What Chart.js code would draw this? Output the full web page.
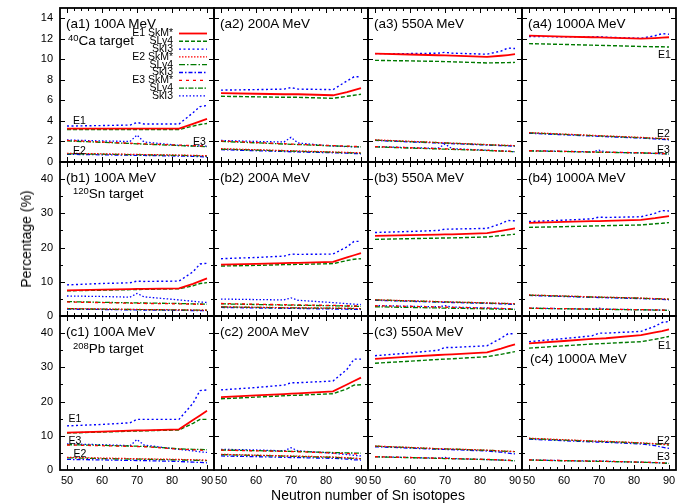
<!DOCTYPE html>
<html><head><meta charset="utf-8">
<script src="https://cdn.jsdelivr.net/npm/chart.js@4.4.0/dist/chart.umd.min.js"></script>
<style>
html,body{margin:0;padding:0;background:#fff;}
#wrap{position:relative;width:685px;height:503px;overflow:hidden;font-family:'Liberation Sans',Arial,sans-serif;color:#000;background:#fff;}
#wrap canvas{position:absolute;left:0;top:0;}
.t{position:absolute;white-space:nowrap;line-height:1;}
sup{font-size:0.7em;vertical-align:0;position:relative;top:-0.45em;}
</style></head><body><div id="wrap"></div>
<script>
// ---------- data ----------
const neutronNumbers = [50, 60, 68, 70, 72, 82, 86, 88, 90];
const xTickLabels = [50, 60, 70, 80, 90];
const yTicksRowA = [0, 2, 4, 6, 8, 10, 12, 14];
const yTicksRowBC = [0, 10, 20, 30, 40];
const seriesNames = ['E1 SkM*', 'SLy4', 'SkI3', 'E2 SkM*', 'SLy4', 'SkI3', 'E3 SkM*', 'SLy4', 'SkI3'];

// (a1) 40Ca target, 100A MeV
const a1_E1_SkM  = [3.25, 3.25, 3.25, 3.25, 3.25, 3.25, 3.72, 3.96, 4.2];
const a1_E1_SLy4 = [3.15, 3.15, 3.15, 3.15, 3.15, 3.15, 3.5, 3.65, 3.75];
const a1_E1_SkI3 = [3.5, 3.55, 3.6, 3.85, 3.7, 3.7, 4.8, 5.4, 5.5];
const a1_E2_SkM  = [0.85, 0.8, 0.75, 0.74, 0.73, 0.68, 0.65, 0.63, 0.62];
const a1_E2_SLy4 = [0.8, 0.76, 0.72, 0.71, 0.7, 0.64, 0.62, 0.6, 0.58];
const a1_E2_SkI3 = [0.75, 0.7, 0.66, 0.65, 0.64, 0.58, 0.55, 0.52, 0.48];
const a1_E3_SkM  = [2.1, 1.95, 1.83, 1.8, 1.77, 1.65, 1.6, 1.57, 1.55];
const a1_E3_SLy4 = [2.05, 1.92, 1.8, 1.77, 1.74, 1.6, 1.55, 1.52, 1.5];
const a1_E3_SkI3 = [2.15, 2.05, 2.0, 2.62, 1.95, 1.62, 1.58, 1.57, 1.55];
// (a2)
const a2_E1_SkM  = [6.7, 6.65, 6.6, 6.6, 6.6, 6.5, 6.8, 7.0, 7.2];
const a2_E1_SLy4 = [6.4, 6.35, 6.3, 6.3, 6.3, 6.2, 6.4, 6.5, 6.6];
const a2_E1_SkI3 = [7.0, 7.05, 7.1, 7.25, 7.1, 7.05, 7.9, 8.3, 8.3];
const a2_E2_SkM  = [1.3, 1.2, 1.12, 1.1, 1.08, 0.98, 0.94, 0.92, 0.9];
const a2_E2_SLy4 = [1.25, 1.16, 1.08, 1.06, 1.04, 0.95, 0.9, 0.88, 0.86];
const a2_E2_SkI3 = [1.2, 1.1, 1.02, 1.0, 0.98, 0.9, 0.86, 0.83, 0.8];
const a2_E3_SkM  = [2.05, 1.9, 1.78, 1.75, 1.72, 1.6, 1.55, 1.52, 1.5];
const a2_E3_SLy4 = [2.0, 1.87, 1.75, 1.72, 1.7, 1.57, 1.52, 1.5, 1.47];
const a2_E3_SkI3 = [2.1, 2.0, 1.95, 2.4, 1.85, 1.55, 1.5, 1.48, 1.46];
// (a3)
const a3_E1_SkM  = [10.56, 10.47, 10.4, 10.38, 10.36, 10.24, 10.35, 10.42, 10.5];
const a3_E1_SLy4 = [9.9, 9.85, 9.8, 9.78, 9.76, 9.65, 9.67, 9.68, 9.7];
const a3_E1_SkI3 = [10.56, 10.56, 10.6, 10.68, 10.6, 10.5, 10.8, 11.1, 11.05];
const a3_E2_SkM  = [2.16, 2.02, 1.9, 1.87, 1.84, 1.7, 1.65, 1.62, 1.6];
const a3_E2_SLy4 = [2.12, 1.99, 1.88, 1.85, 1.82, 1.68, 1.63, 1.6, 1.58];
const a3_E2_SkI3 = [2.1, 1.96, 1.85, 1.82, 1.79, 1.65, 1.6, 1.57, 1.55];
const a3_E3_SkM  = [1.5, 1.39, 1.3, 1.28, 1.26, 1.14, 1.08, 1.05, 1.02];
const a3_E3_SLy4 = [1.47, 1.36, 1.27, 1.25, 1.23, 1.12, 1.06, 1.03, 1.0];
const a3_E3_SkI3 = [1.5, 1.4, 1.33, 1.75, 1.3, 1.15, 1.08, 1.05, 1.0];
// (a4)
const a4_E1_SkM  = [12.31, 12.22, 12.15, 12.13, 12.11, 12.02, 12.07, 12.11, 12.15];
const a4_E1_SLy4 = [11.53, 11.45, 11.38, 11.36, 11.35, 11.25, 11.23, 11.22, 11.2];
const a4_E1_SkI3 = [12.22, 12.2, 12.18, 12.2, 12.15, 12.05, 12.3, 12.5, 12.45];
const a4_E2_SkM  = [2.87, 2.72, 2.6, 2.57, 2.54, 2.4, 2.33, 2.3, 2.25];
const a4_E2_SLy4 = [2.84, 2.69, 2.57, 2.54, 2.51, 2.37, 2.3, 2.27, 2.22];
const a4_E2_SkI3 = [2.8, 2.65, 2.53, 2.5, 2.47, 2.33, 2.25, 2.2, 2.15];
const a4_E3_SkM  = [1.1, 1.04, 0.98, 0.97, 0.96, 0.9, 0.85, 0.82, 0.8];
const a4_E3_SLy4 = [1.08, 1.02, 0.96, 0.95, 0.94, 0.88, 0.84, 0.81, 0.78];
const a4_E3_SkI3 = [1.1, 1.04, 0.99, 1.15, 0.96, 0.88, 0.83, 0.8, 0.77];
// (b1) 120Sn target
const b1_E1_SkM  = [7.5, 7.7, 7.85, 7.9, 7.92, 8.05, 9.4, 10.2, 11.0];
const b1_E1_SLy4 = [7.35, 7.55, 7.7, 7.75, 7.78, 7.95, 8.8, 9.5, 9.75];
const b1_E1_SkI3 = [9.1, 9.5, 9.7, 10.2, 10.1, 10.2, 12.9, 15.2, 15.4];
const b1_E2_SkM  = [2.2, 2.05, 1.95, 1.92, 1.9, 1.8, 1.75, 1.72, 1.7];
const b1_E2_SLy4 = [2.15, 2.0, 1.9, 1.88, 1.86, 1.77, 1.72, 1.7, 1.68];
const b1_E2_SkI3 = [2.0, 1.9, 1.8, 1.78, 1.76, 1.65, 1.6, 1.57, 1.55];
const b1_E3_SkM  = [4.1, 3.9, 3.75, 3.7, 3.67, 3.55, 3.45, 3.4, 3.35];
const b1_E3_SLy4 = [4.2, 4.0, 3.85, 3.82, 3.8, 3.65, 3.55, 3.5, 3.45];
const b1_E3_SkI3 = [5.85, 5.7, 5.5, 6.6, 5.6, 4.7, 4.3, 4.1, 3.95];
// (b2)
const b2_E1_SkM  = [15.0, 15.25, 15.45, 15.5, 15.52, 15.8, 17.1, 17.75, 18.4];
const b2_E1_SLy4 = [14.6, 14.8, 15.0, 15.05, 15.08, 15.3, 16.2, 16.6, 16.75];
const b2_E1_SkI3 = [16.75, 17.1, 17.5, 18.1, 18.0, 18.1, 20.2, 21.8, 21.8];
const b2_E2_SkM  = [2.7, 2.55, 2.45, 2.42, 2.4, 2.3, 2.25, 2.2, 2.15];
const b2_E2_SLy4 = [2.65, 2.5, 2.4, 2.38, 2.36, 2.25, 2.2, 2.16, 2.12];
const b2_E2_SkI3 = [2.5, 2.35, 2.25, 2.22, 2.2, 2.05, 1.98, 1.95, 1.9];
const b2_E3_SkM  = [3.65, 3.45, 3.3, 3.27, 3.24, 3.1, 3.0, 2.95, 2.9];
const b2_E3_SLy4 = [3.55, 3.35, 3.2, 3.17, 3.14, 3.0, 2.9, 2.85, 2.8];
const b2_E3_SkI3 = [4.95, 4.8, 4.7, 5.3, 4.6, 3.9, 3.6, 3.45, 3.35];
// (b3)
const b3_E1_SkM  = [23.4, 23.65, 23.8, 23.85, 23.88, 24.2, 24.9, 25.25, 25.6];
const b3_E1_SLy4 = [22.4, 22.6, 22.75, 22.8, 22.82, 23.1, 23.5, 23.7, 23.9];
const b3_E1_SkI3 = [24.4, 24.7, 25.0, 25.4, 25.4, 25.6, 27.0, 27.9, 27.8];
const b3_E2_SkM  = [4.75, 4.45, 4.22, 4.16, 4.1, 3.85, 3.72, 3.66, 3.6];
const b3_E2_SLy4 = [4.7, 4.4, 4.17, 4.11, 4.05, 3.8, 3.67, 3.6, 3.55];
const b3_E2_SkI3 = [4.6, 4.3, 4.07, 4.01, 3.95, 3.68, 3.55, 3.48, 3.4];
const b3_E3_SkM  = [3.0, 2.8, 2.62, 2.58, 2.54, 2.3, 2.2, 2.14, 2.08];
const b3_E3_SLy4 = [2.7, 2.5, 2.35, 2.3, 2.27, 2.1, 2.0, 1.95, 1.9];
const b3_E3_SkI3 = [3.05, 2.85, 2.7, 3.0, 2.6, 2.35, 2.2, 2.1, 2.0];
// (b4)
const b4_E1_SkM  = [27.2, 27.5, 27.7, 27.75, 27.8, 28.1, 28.6, 28.9, 29.2];
const b4_E1_SLy4 = [25.9, 26.1, 26.3, 26.35, 26.4, 26.6, 26.95, 27.1, 27.3];
const b4_E1_SkI3 = [27.6, 28.0, 28.4, 28.9, 28.8, 29.0, 30.0, 30.8, 30.7];
const b4_E2_SkM  = [6.15, 5.85, 5.6, 5.55, 5.5, 5.25, 5.1, 5.02, 4.95];
const b4_E2_SLy4 = [6.1, 5.8, 5.55, 5.5, 5.45, 5.2, 5.05, 4.97, 4.9];
const b4_E2_SkI3 = [6.0, 5.7, 5.45, 5.4, 5.35, 5.08, 4.93, 4.85, 4.75];
const b4_E3_SkM  = [2.3, 2.15, 2.02, 2.0, 1.97, 1.85, 1.78, 1.74, 1.7];
const b4_E3_SLy4 = [2.25, 2.1, 1.98, 1.95, 1.93, 1.8, 1.74, 1.7, 1.66];
const b4_E3_SkI3 = [2.3, 2.15, 2.05, 2.3, 2.0, 1.85, 1.77, 1.72, 1.65];
// (c1) 208Pb target
const c1_E1_SkM  = [10.9, 11.2, 11.5, 11.55, 11.6, 11.9, 14.6, 15.95, 17.3];
const c1_E1_SLy4 = [10.8, 11.1, 11.35, 11.4, 11.45, 11.7, 13.65, 14.8, 14.8];
const c1_E1_SkI3 = [12.9, 13.3, 13.8, 14.8, 14.8, 14.8, 19.5, 23.2, 23.4];
const c1_E2_SkM  = [3.7, 3.5, 3.35, 3.3, 3.27, 3.1, 3.0, 2.95, 2.9];
const c1_E2_SLy4 = [3.55, 3.35, 3.2, 3.17, 3.14, 2.95, 2.85, 2.8, 2.75];
const c1_E2_SkI3 = [3.1, 2.95, 2.8, 2.77, 2.74, 2.5, 2.3, 2.2, 2.1];
const c1_E3_SkM  = [7.3, 7.1, 6.9, 6.85, 6.8, 6.1, 5.9, 5.8, 5.7];
const c1_E3_SLy4 = [7.4, 7.2, 7.0, 6.95, 6.9, 6.2, 6.05, 6.0, 5.95];
const c1_E3_SkI3 = [7.6, 7.4, 7.1, 8.9, 7.3, 6.0, 5.6, 5.3, 5.15];
// (c2)
const c2_E1_SkM  = [21.3, 21.8, 22.2, 22.3, 22.4, 23.0, 25.0, 26.0, 27.0];
const c2_E1_SLy4 = [20.8, 21.3, 21.7, 21.8, 21.85, 22.3, 23.7, 24.8, 24.9];
const c2_E1_SkI3 = [23.4, 24.1, 24.8, 25.5, 25.5, 26.0, 29.4, 32.4, 32.4];
const c2_E2_SkM  = [4.6, 4.35, 4.15, 4.1, 4.06, 3.8, 3.6, 3.45, 3.3];
const c2_E2_SLy4 = [4.5, 4.25, 4.05, 4.0, 3.96, 3.7, 3.5, 3.4, 3.3];
const c2_E2_SkI3 = [4.1, 3.9, 3.7, 3.65, 3.62, 3.4, 3.2, 3.0, 2.9];
const c2_E3_SkM  = [5.8, 5.6, 5.45, 5.4, 5.35, 4.95, 4.8, 4.75, 4.7];
const c2_E3_SLy4 = [5.85, 5.65, 5.5, 5.45, 5.4, 5.1, 5.0, 4.95, 4.9];
const c2_E3_SkI3 = [6.05, 5.85, 5.6, 6.5, 5.6, 4.9, 4.5, 4.3, 4.1];
// (c3)
const c3_E1_SkM  = [32.5, 33.1, 33.6, 33.7, 33.8, 34.4, 35.5, 36.1, 36.7];
const c3_E1_SLy4 = [31.2, 31.8, 32.3, 32.4, 32.5, 33.1, 33.8, 34.2, 34.6];
const c3_E1_SkI3 = [33.4, 34.2, 35.0, 35.8, 35.8, 36.3, 38.5, 39.8, 39.8];
const c3_E2_SkM  = [7.0, 6.6, 6.25, 6.2, 6.15, 5.8, 5.6, 5.5, 5.4];
const c3_E2_SLy4 = [6.95, 6.55, 6.2, 6.15, 6.1, 5.75, 5.55, 5.45, 5.35];
const c3_E2_SkI3 = [6.8, 6.4, 6.05, 6.0, 5.95, 5.55, 5.2, 4.95, 4.7];
const c3_E3_SkM  = [3.9, 3.65, 3.45, 3.4, 3.35, 3.1, 2.95, 2.85, 2.75];
const c3_E3_SLy4 = [3.85, 3.6, 3.4, 3.35, 3.3, 3.05, 2.9, 2.8, 2.7];
const c3_E3_SkI3 = [3.9, 3.65, 3.45, 3.7, 3.35, 3.05, 2.9, 2.8, 2.7];
// (c4)
const c4_E1_SkM  = [37.0, 37.7, 38.3, 38.4, 38.5, 39.4, 40.2, 40.6, 41.1];
const c4_E1_SLy4 = [35.6, 36.3, 36.8, 36.9, 37.0, 37.5, 38.2, 38.6, 39.0];
const c4_E1_SkI3 = [37.5, 38.4, 39.2, 40.0, 40.0, 40.5, 42.0, 43.1, 43.4];
const c4_E2_SkM  = [9.3, 8.85, 8.5, 8.45, 8.4, 7.95, 7.7, 7.55, 7.4];
const c4_E2_SLy4 = [9.2, 8.75, 8.4, 8.35, 8.3, 7.85, 7.6, 7.45, 7.3];
const c4_E2_SkI3 = [9.0, 8.55, 8.2, 8.15, 8.1, 7.6, 7.1, 6.7, 6.3];
const c4_E3_SkM  = [2.95, 2.75, 2.6, 2.57, 2.54, 2.3, 2.2, 2.1, 2.0];
const c4_E3_SLy4 = [2.9, 2.7, 2.55, 2.52, 2.5, 2.27, 2.15, 2.05, 1.95];
const c4_E3_SkI3 = [2.95, 2.75, 2.6, 2.7, 2.55, 2.28, 2.15, 2.05, 1.95];

// ---------- tables built from the arrays ----------
const panels = [
  {id:'a1', row:0, col:0, title:'(a1) 100A MeV', s:[a1_E1_SkM,a1_E1_SLy4,a1_E1_SkI3,a1_E2_SkM,a1_E2_SLy4,a1_E2_SkI3,a1_E3_SkM,a1_E3_SLy4,a1_E3_SkI3]},
  {id:'a2', row:0, col:1, title:'(a2) 200A MeV', s:[a2_E1_SkM,a2_E1_SLy4,a2_E1_SkI3,a2_E2_SkM,a2_E2_SLy4,a2_E2_SkI3,a2_E3_SkM,a2_E3_SLy4,a2_E3_SkI3]},
  {id:'a3', row:0, col:2, title:'(a3) 550A MeV', s:[a3_E1_SkM,a3_E1_SLy4,a3_E1_SkI3,a3_E2_SkM,a3_E2_SLy4,a3_E2_SkI3,a3_E3_SkM,a3_E3_SLy4,a3_E3_SkI3]},
  {id:'a4', row:0, col:3, title:'(a4) 1000A MeV', s:[a4_E1_SkM,a4_E1_SLy4,a4_E1_SkI3,a4_E2_SkM,a4_E2_SLy4,a4_E2_SkI3,a4_E3_SkM,a4_E3_SLy4,a4_E3_SkI3]},
  {id:'b1', row:1, col:0, title:'(b1) 100A MeV', s:[b1_E1_SkM,b1_E1_SLy4,b1_E1_SkI3,b1_E2_SkM,b1_E2_SLy4,b1_E2_SkI3,b1_E3_SkM,b1_E3_SLy4,b1_E3_SkI3]},
  {id:'b2', row:1, col:1, title:'(b2) 200A MeV', s:[b2_E1_SkM,b2_E1_SLy4,b2_E1_SkI3,b2_E2_SkM,b2_E2_SLy4,b2_E2_SkI3,b2_E3_SkM,b2_E3_SLy4,b2_E3_SkI3]},
  {id:'b3', row:1, col:2, title:'(b3) 550A MeV', s:[b3_E1_SkM,b3_E1_SLy4,b3_E1_SkI3,b3_E2_SkM,b3_E2_SLy4,b3_E2_SkI3,b3_E3_SkM,b3_E3_SLy4,b3_E3_SkI3]},
  {id:'b4', row:1, col:3, title:'(b4) 1000A MeV', s:[b4_E1_SkM,b4_E1_SLy4,b4_E1_SkI3,b4_E2_SkM,b4_E2_SLy4,b4_E2_SkI3,b4_E3_SkM,b4_E3_SLy4,b4_E3_SkI3]},
  {id:'c1', row:2, col:0, title:'(c1) 100A MeV', s:[c1_E1_SkM,c1_E1_SLy4,c1_E1_SkI3,c1_E2_SkM,c1_E2_SLy4,c1_E2_SkI3,c1_E3_SkM,c1_E3_SLy4,c1_E3_SkI3]},
  {id:'c2', row:2, col:1, title:'(c2) 200A MeV', s:[c2_E1_SkM,c2_E1_SLy4,c2_E1_SkI3,c2_E2_SkM,c2_E2_SLy4,c2_E2_SkI3,c2_E3_SkM,c2_E3_SLy4,c2_E3_SkI3]},
  {id:'c3', row:2, col:2, title:'(c3) 550A MeV', s:[c3_E1_SkM,c3_E1_SLy4,c3_E1_SkI3,c3_E2_SkM,c3_E2_SLy4,c3_E2_SkI3,c3_E3_SkM,c3_E3_SLy4,c3_E3_SkI3]},
  {id:'c4', row:2, col:3, title:'(c4) 1000A MeV', s:[c4_E1_SkM,c4_E1_SLy4,c4_E1_SkI3,c4_E2_SkM,c4_E2_SLy4,c4_E2_SkI3,c4_E3_SkM,c4_E3_SLy4,c4_E3_SkI3]}
];

const RED = '#ff0000', GREEN = '#007a00', BLUE = '#0000ff';
const lineStyles = [
  {c:RED,   w:1.8, d:[]},
  {c:GREEN, w:1.4, d:[4,2]},
  {c:BLUE,  w:1.4, d:[2,2.5]},
  {c:RED,   w:1.2, d:[1.5,1.5]},
  {c:GREEN, w:1.3, d:[6,2,1.5,2]},
  {c:BLUE,  w:1.3, d:[4,2,1.5,2]},
  {c:RED,   w:1.3, d:[3,4]},
  {c:GREEN, w:1.3, d:[5,1.5,1.5,1.5]},
  {c:BLUE,  w:1.3, d:[1.5,2]}
];

const W = 685, H = 503;
const PX0 = 60, PY0 = 8, PS = 154;
const YAXIS_W = 50, XAXIS_H = 22;

const framePlugin = {
  id: 'frame',
  afterDraw(chart) {
    const {ctx, chartArea: a, scales: {x, y}} = chart;
    const row = chart.options.plugins.frame.row;
    ctx.save();
    ctx.strokeStyle = '#000';
    ctx.lineWidth = 1;
    ctx.beginPath();
    for (let v = 50; v <= 90; v += 2) {
      const px = Math.round(x.getPixelForValue(v)) + 0.5;
      const L = (v % 10 === 0) ? 5 : 3;
      ctx.moveTo(px, a.bottom); ctx.lineTo(px, a.bottom - L);
      ctx.moveTo(px, a.top); ctx.lineTo(px, a.top + L);
    }
    const ymax = row === 0 ? 14 : 40;
    const ystep = row === 0 ? 2 : 5;
    const ymaj = row === 0 ? 2 : 10;
    for (let v = ystep; v <= ymax; v += ystep) {
      const py = Math.round(y.getPixelForValue(v)) + 0.5;
      const L = (v % ymaj === 0) ? 5 : 3;
      ctx.moveTo(a.left, py); ctx.lineTo(a.left + L, py);
      ctx.moveTo(a.right, py); ctx.lineTo(a.right - L, py);
    }
    ctx.stroke();
    ctx.lineWidth = 1.8;
    ctx.strokeRect(a.left, a.top, a.right - a.left, a.bottom - a.top);
    ctx.restore();
  }
};

const legendPlugin = {
  id: 'sampleLegend',
  afterDraw(chart) {
    if (!chart.options.plugins.sampleLegend.show) return;
    const ctx = chart.ctx;
    ctx.save();
    ctx.font = '10.5px "Liberation Sans", Arial, sans-serif';
    ctx.textAlign = 'right';
    ctx.textBaseline = 'middle';
    ctx.fillStyle = '#000';
    chart.data.datasets.forEach((ds, i) => {
      const yy = 33.5 + i * 7.8;
      ctx.fillText(seriesNames[i], 173, yy);
      ctx.beginPath();
      ctx.strokeStyle = ds.borderColor;
      ctx.lineWidth = ds.borderWidth;
      ctx.setLineDash(ds.borderDash);
      ctx.moveTo(179, yy); ctx.lineTo(207, yy);
      ctx.stroke();
    });
    ctx.restore();
  }
};

const wrap = document.getElementById('wrap');

panels.forEach(p => {
  const cv = document.createElement('canvas');
  cv.width = W; cv.height = H;
  cv.style.width = W + 'px'; cv.style.height = H + 'px';
  wrap.appendChild(cv);
  const left = PX0 + p.col * PS, top = PY0 + p.row * PS;
  const isLeft = p.col === 0, isBottom = p.row === 2;
  const yMax = p.row === 0 ? 15 : 45;
  const yStep = p.row === 0 ? 2 : 10;
  const datasets = p.s.map((vals, i) => ({
    label: seriesNames[i],
    data: neutronNumbers.map((n, k) => ({x: n, y: vals[k]})),
    borderColor: lineStyles[i].c,
    borderWidth: lineStyles[i].w,
    borderDash: lineStyles[i].d,
    pointRadius: 0,
    fill: false,
    tension: 0
  }));
  new Chart(cv, {
    type: 'line',
    data: {datasets},
    options: {
      responsive: false,
      animation: false,
      devicePixelRatio: 1,
      events: [],
      layout: {padding: {
        left: left - (isLeft ? YAXIS_W : 0),
        top: top,
        right: W - (left + PS),
        bottom: H - (top + PS) - (isBottom ? XAXIS_H : 0)
      }},
      plugins: {
        legend: {display: false},
        tooltip: {enabled: false},
        frame: {row: p.row},
        sampleLegend: {show: p.id === 'a1'}
      },
      scales: {
        x: {
          type: 'linear', min: 48, max: 92,
          grid: {display: false, drawTicks: false},
          border: {display: false},
          ticks: {display: isBottom, stepSize: 10, includeBounds: false, padding: 4, maxRotation: 0,
                  color: '#000', font: {family: '"Liberation Sans", Arial, sans-serif', size: 11},
                  callback: v => xTickLabels.includes(v) ? String(v) : ''},
          afterFit: s => { s.height = isBottom ? XAXIS_H : 0; s.paddingLeft = 0; s.paddingRight = 0; }
        },
        y: {
          type: 'linear', min: 0, max: yMax,
          grid: {display: false, drawTicks: false},
          border: {display: false},
          ticks: {display: isLeft, stepSize: yStep, includeBounds: false, padding: 7,
                  color: '#000', font: {family: '"Liberation Sans", Arial, sans-serif', size: 11},
                  callback: v => (p.row === 0 ? yTicksRowA : yTicksRowBC).includes(v) ? String(v) : ''},
          afterFit: s => { s.width = isLeft ? YAXIS_W : 0; s.paddingTop = 0; s.paddingBottom = 0; }
        }
      }
    },
    plugins: [framePlugin, legendPlugin]
  });
});

// ---------- text overlays ----------
function addText(html, x, capCenterY, size, extra) {
  const d = document.createElement('div');
  d.className = 't';
  d.innerHTML = html;
  d.style.left = x + 'px';
  d.style.top = (capCenterY - 0.4885 * size) + 'px';
  d.style.fontSize = size + 'px';
  if (extra) Object.assign(d.style, extra);
  wrap.appendChild(d);
  return d;
}
panels.forEach(p => {
  const left = PX0 + p.col * PS, top = PY0 + p.row * PS;
  if (p.id === 'c4') addText(p.title, left + 8, 359, 13.5);
  else addText(p.title, left + 6, top + 16, 13.5);
});
addText('<sup>40</sup>Ca target', 68, 40.5, 13.5);
addText('<sup>120</sup>Sn target', 73, 193.5, 13.5);
addText('<sup>208</sup>Pb target', 73, 348.5, 13.5);
const eLabels = [
  ['E1', 73, 120], ['E2', 73, 149.7], ['E3', 193, 141.3],
  ['E1', 658, 54.5], ['E2', 657, 132.8], ['E3', 657, 149.5],
  ['E1', 68.5, 418.5], ['E3', 68.5, 440], ['E2', 73.5, 453.5],
  ['E1', 658, 345], ['E2', 657, 440], ['E3', 657, 456]
];
eLabels.forEach(e => addText(e[0], e[1], e[2], 10.5));
addText('Neutron number of Sn isotopes', 0, 495, 14, {width: '736px', textAlign: 'center'});
const yt = addText('Percentage (%)', 0, 0, 14);
yt.style.left = '26px'; yt.style.top = '239px';
yt.style.transform = 'translate(-50%,-50%) rotate(-90deg)';
</script></body></html>
